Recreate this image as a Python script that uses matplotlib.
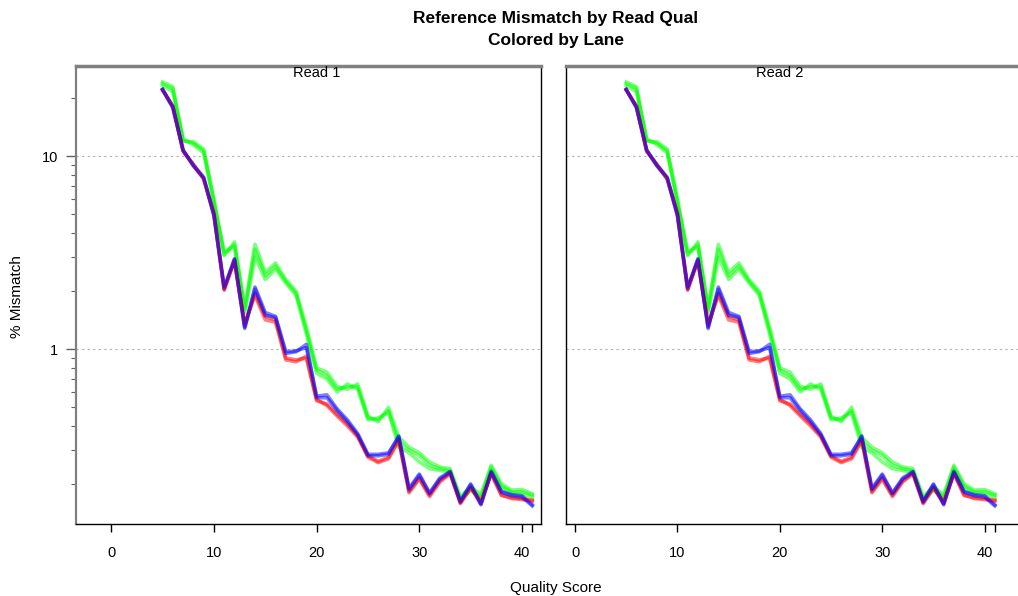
import numpy as np
import matplotlib.pyplot as plt
from matplotlib.ticker import FixedLocator, NullFormatter
import matplotlib.transforms as mtransforms

plt.rcParams['font.family'] = ['Liberation Sans', 'DejaVu Sans']

quality = list(range(5, 42))

# % mismatch per lane (same curves in both reads)
green_lane1 = [23.8, 22.4, 12.1, 11.7, 10.7, 5.9, 3.1, 3.5, 1.6, 3.3, 2.4, 2.7, 2.25, 1.95, 1.25,
               0.78, 0.73, 0.62, 0.64, 0.64, 0.44, 0.43, 0.48, 0.33, 0.30, 0.28, 0.25, 0.24,
               0.235, 0.168, 0.19, 0.172, 0.245, 0.195, 0.182, 0.183, 0.175]
green_lane2 = [23.2, 21.6, 12.3, 11.5, 10.4, 5.7, 3.2, 3.4, 1.55, 3.0, 2.3, 2.6, 2.2, 1.9, 1.2,
               0.75, 0.70, 0.60, 0.66, 0.62, 0.43, 0.44, 0.47, 0.31, 0.29, 0.26, 0.24, 0.235,
               0.23, 0.165, 0.186, 0.168, 0.238, 0.19, 0.18, 0.178, 0.171]
green_lane3 = [24.3, 23.0, 12.0, 11.9, 10.9, 6.0, 3.05, 3.6, 1.65, 3.5, 2.5, 2.8, 2.3, 2.0, 1.3,
               0.80, 0.76, 0.64, 0.62, 0.66, 0.45, 0.42, 0.50, 0.35, 0.31, 0.29, 0.26, 0.245,
               0.24, 0.172, 0.194, 0.176, 0.25, 0.2, 0.186, 0.187, 0.178]
red_lane1 = [22.2, 18.0, 10.7, 9.0, 7.7, 5.0, 2.02, 2.9, 1.32, 1.95, 1.48, 1.42, 0.90, 0.88, 0.90,
             0.54, 0.52, 0.46, 0.41, 0.355, 0.28, 0.262, 0.275, 0.34, 0.18, 0.212, 0.172, 0.205,
             0.225, 0.16, 0.192, 0.158, 0.228, 0.176, 0.168, 0.166, 0.163]
red_lane2 = [22.0, 18.3, 10.6, 9.1, 7.6, 5.1, 2.06, 2.85, 1.36, 1.9, 1.42, 1.38, 0.88, 0.86, 0.92,
             0.55, 0.51, 0.45, 0.40, 0.35, 0.275, 0.258, 0.27, 0.335, 0.183, 0.215, 0.175, 0.208,
             0.228, 0.158, 0.19, 0.162, 0.225, 0.174, 0.17, 0.168, 0.165]
blue_lane1 = [22.3, 17.8, 10.8, 8.9, 7.7, 4.9, 2.05, 2.95, 1.28, 2.1, 1.55, 1.48, 0.97, 0.98, 1.02,
              0.57, 0.58, 0.49, 0.43, 0.365, 0.285, 0.285, 0.29, 0.35, 0.19, 0.225, 0.18, 0.215,
              0.232, 0.163, 0.2, 0.158, 0.232, 0.183, 0.176, 0.174, 0.156]
blue_lane2 = [22.1, 18.1, 10.7, 9.0, 7.8, 5.0, 2.1, 2.9, 1.3, 2.05, 1.5, 1.46, 0.95, 0.97, 1.06,
              0.56, 0.56, 0.48, 0.42, 0.36, 0.28, 0.28, 0.285, 0.355, 0.187, 0.222, 0.178, 0.212,
              0.23, 0.161, 0.198, 0.156, 0.23, 0.181, 0.174, 0.171, 0.154]

# drawing order: greens, then red and blue lanes interleaved so they blend to purple
lanes = [(green_lane1, '#00ff00'), (green_lane2, '#00ff00'), (green_lane3, '#00ff00'),
         (red_lane1, '#ff0000'), (blue_lane1, '#0000ff'),
         (red_lane2, '#ff0000'), (blue_lane2, '#0000ff')]

panel_names = ['Read 1', 'Read 2']
x_ticks = [0, 10, 20, 30, 40, 41]
x_tick_labels = ['0', '10', '20', '30', '40', '']

W, H = 1018, 596
fig = plt.figure(figsize=(W / 100, H / 100), dpi=100)

boxes = [(76, 541, (-3.43, 41.85)), (566, 1022, (-0.88, 43.65))]
top_px, bot_px = 66, 524

for i, (name, (l, r, xl)) in enumerate(zip(panel_names, boxes)):
    ax = fig.add_axes([l / W, 1 - bot_px / H, (r - l) / W, (bot_px - top_px) / H])
    ax.set_yscale('log')
    ax.set_xlim(*xl)
    ax.set_ylim(0.124, 29.4)

    for y in [1, 10]:
        ax.axhline(y, color='#b0b0b0', lw=0.8, linestyle=(0, (2, 3)), zorder=0)

    for vals, col in lanes:
        ax.plot(quality, vals, color=col, lw=2.6, alpha=0.5, solid_joinstyle='round')

    ax.xaxis.set_major_locator(FixedLocator(x_ticks))
    ax.set_xticklabels(x_tick_labels, fontsize=10.5)
    ax.tick_params(axis='x', direction='out', length=6, width=1, pad=10)

    ax.spines['top'].set_color('#808080')
    ax.spines['top'].set_linewidth(2.5)
    ax.spines['right'].set_linewidth(1)
    ax.spines['bottom'].set_linewidth(1)

    if i == 0:
        ax.yaxis.set_major_locator(FixedLocator([1, 10]))
        ax.yaxis.set_minor_locator(FixedLocator([0.2, 0.3, 0.4, 0.5, 0.6, 0.7, 0.8, 0.9,
                                                 2, 3, 4, 5, 6, 7, 8, 9, 20]))
        ax.set_yticklabels(['1', '10'], fontsize=10.5)
        ax.yaxis.set_minor_formatter(NullFormatter())
        ax.tick_params(axis='y', which='major', direction='out', length=7, width=1,
                       color='#606060', pad=6)
        ax.tick_params(axis='y', which='minor', direction='out', length=3.5, width=0.8,
                       color='#606060')
        ax.spines['left'].set_color('#808080')
        ax.spines['left'].set_linewidth(1.6)
    else:
        ax.yaxis.set_major_locator(FixedLocator([]))
        ax.yaxis.set_minor_locator(FixedLocator([]))
        ax.spines['left'].set_linewidth(1)

    trans = mtransforms.blended_transform_factory(ax.transData, ax.transAxes)
    ax.text(20, 1 - 7 / (bot_px - top_px), name, transform=trans, ha='center', va='center',
            fontsize=10.5)

fig.text(556 / W, 1 - 18 / H, 'Reference Mismatch by Read Qual', ha='center', va='center',
         fontsize=12.5, fontweight='bold')
fig.text(556 / W, 1 - 41 / H, 'Colored by Lane', ha='center', va='center',
         fontsize=12.5, fontweight='bold')
fig.text(556 / W, 1 - 588 / H, 'Quality Score', ha='center', va='center', fontsize=11)
fig.text(17 / W, 1 - 297 / H, '% Mismatch', ha='center', va='center', rotation=90,
         fontsize=11)

fig.savefig('out.png', dpi=100)
